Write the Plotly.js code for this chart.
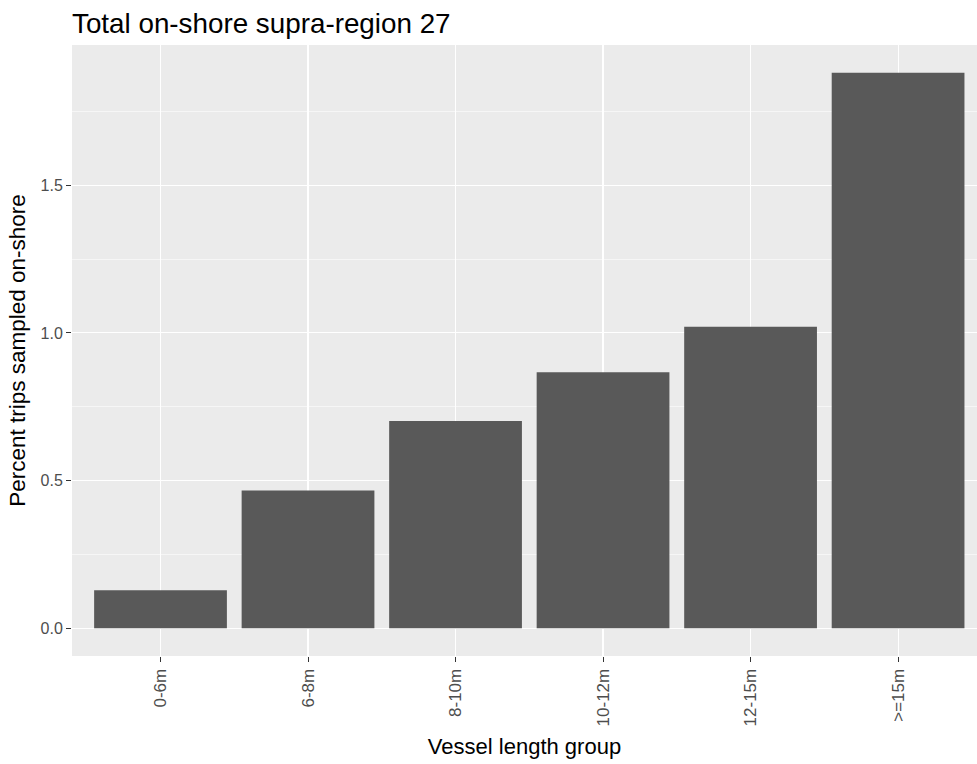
<!DOCTYPE html>
<html>
<head>
<meta charset="utf-8">
<script src="https://cdn.plot.ly/plotly-3.0.1.min.js"></script>
<style>html,body{margin:0;padding:0;background:#fff;}#chart{width:977px;height:764px;}</style>
</head>
<body>
<div id="chart"></div>
<script>
const categories = ["0-6m", "6-8m", "8-10m", "10-12m", "12-15m", ">=15m"];
const percentSampled = [0.129, 0.466, 0.702, 0.867, 1.021, 1.881];
const yTickVals = [0.0, 0.5, 1.0, 1.5];
const yTickText = ["0.0", "0.5", "1.0", "1.5"];
const yMinorVals = [0.25, 0.75, 1.25, 1.75];

const maxVal = Math.max(...percentSampled);
const trace = {
  type: 'bar',
  x: categories,
  y: percentSampled,
  width: 0.9,
  marker: {color: '#595959', line: {width: 0}},
  hoverinfo: 'x+y'
};
const FONT = 'Liberation Sans, Arial, sans-serif';
const layout = {
  width: 977, height: 764,
  margin: {l: 72, r: 0, t: 45, b: 108, pad: 0},
  paper_bgcolor: '#FFFFFF',
  plot_bgcolor: '#EBEBEB',
  font: {family: FONT, color: '#000000'},
  showlegend: false,
  title: {
    text: 'Total on-shore supra-region 27',
    font: {size: 27.8, color: '#000000', family: FONT},
    xref: 'paper', x: 0, xanchor: 'left',
    yref: 'container', y: 1 - 23/764, yanchor: 'middle'
  },
  xaxis: {
    type: 'category',
    range: [-0.6, 5.535],
    tickangle: -90,
    tickfont: {size: 17, color: '#4D4D4D', family: FONT},
    ticks: 'outside', ticklen: 5, tickwidth: 1, tickcolor: '#333333',
    showgrid: true, gridcolor: '#FFFFFF', gridwidth: 1.1,
    showline: false, zeroline: false,
    fixedrange: true,
    title: {text: 'Vessel length group', font: {size: 22, color: '#000000', family: FONT}, standoff: 13}
  },
  yaxis: {
    range: [-0.05*maxVal, 1.05*maxVal],
    tickmode: 'array', tickvals: yTickVals, ticktext: yTickText,
    tickfont: {size: 16, color: '#4D4D4D', family: FONT},
    ticks: 'outside', ticklen: 5, tickwidth: 1, tickcolor: '#333333',
    showgrid: true, gridcolor: '#FFFFFF', gridwidth: 1.1,
    minor: {tickmode: 'array', tickvals: yMinorVals, showgrid: true, gridcolor: '#FFFFFF', gridwidth: 0.55, ticks: ''},
    zeroline: false, showline: false,
    fixedrange: true,
    title: {text: 'Percent trips sampled on-shore', font: {size: 22.5, color: '#000000', family: FONT}, standoff: 8}
  }
};
Plotly.newPlot('chart', [trace], layout, {displayModeBar: false, staticPlot: true});
</script>
</body>
</html>
